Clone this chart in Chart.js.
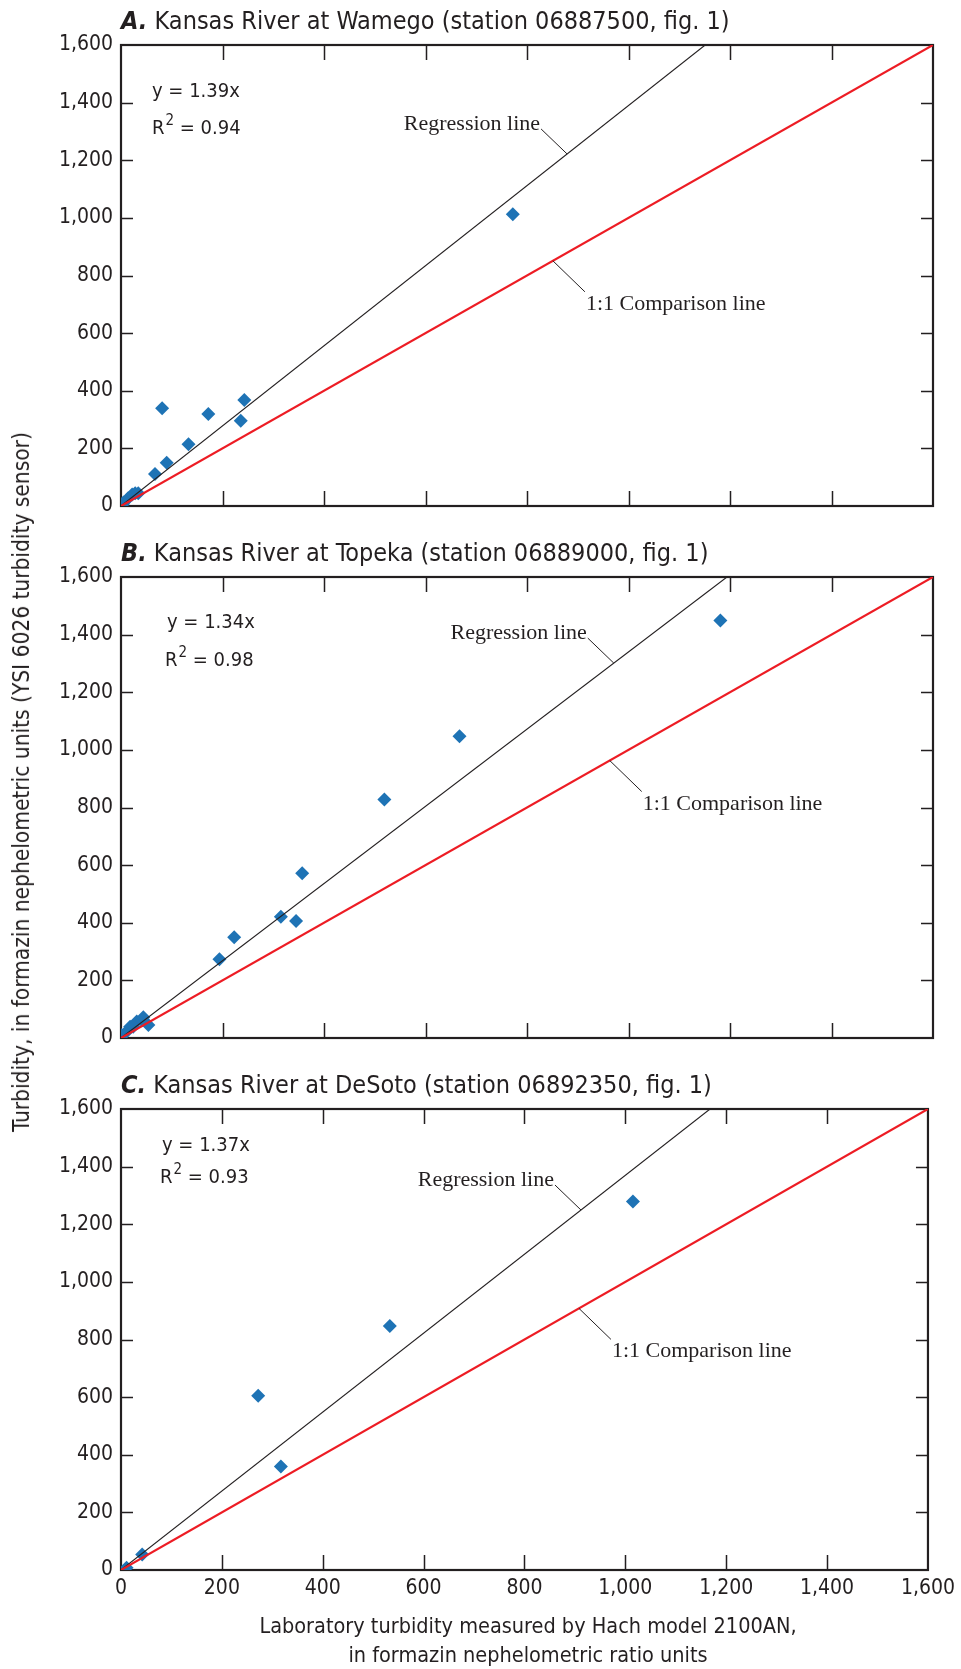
<!DOCTYPE html>
<html>
<head>
<meta charset="utf-8">
<script src="https://cdn.jsdelivr.net/npm/chart.js@4.4.1/dist/chart.umd.min.js"></script>
<style>
body { margin: 0; background: #fff; width: 961px; height: 1669px; position: relative; overflow: hidden; }
canvas { position: absolute; left: 0; }
.lbl { position: absolute; font-family: 'DejaVu Sans Condensed', 'Liberation Sans Narrow', sans-serif; color: #231f20; white-space: nowrap; }
#ytitle { left: 21px; top: 782px; font-size: 22.5px; transform: translate(-50%, -50%) rotate(-90deg); }
#xtitle { left: 528px; top: 1611px; font-size: 21.5px; line-height: 29px; text-align: center; transform: translateX(-50%); }
</style>
</head>
<body>
<canvas id="panelA" width="961" height="540" style="top:0px"></canvas>
<canvas id="panelB" width="961" height="532" style="top:540px"></canvas>
<canvas id="panelC" width="961" height="597" style="top:1072px"></canvas>
<div class="lbl" id="ytitle">Turbidity, in formazin nephelometric units (YSI 6026 turbidity sensor)</div>
<div class="lbl" id="xtitle">Laboratory turbidity measured by Hach model 2100AN,<br>in formazin nephelometric ratio units</div>
<script>
// tick values (both axes)
const axisTicks = [0, 200, 400, 600, 800, 1000, 1200, 1400, 1600];

const panelLetters = ['A.', 'B.', 'C.'];
const panelTitles = [
    'Kansas River at Wamego (station 06887500, fig. 1)',
    'Kansas River at Topeka (station 06889000, fig. 1)',
    'Kansas River at DeSoto (station 06892350, fig. 1)'
];
const slopes = [1.39, 1.34, 1.37];
const rSquared = ['0.94', '0.98', '0.93'];

// lab (Hach, FNU) vs sensor (YSI, FNU) samples
const wamegoLab = [3, 5, 14, 22, 28, 34, 67, 90, 133, 81, 172, 236, 243, 772];
const wamegoSensor = [5, 12, 27, 40, 44, 44, 111, 150, 214, 339, 319, 296, 368, 1013];

const topekaLab = [1, 11, 18, 24, 31, 41, 44, 54, 194, 223, 315, 345, 357, 519, 667, 1181];
const topekaSensor = [10, 22, 39, 39, 57, 62, 72, 45, 273, 350, 421, 406, 572, 828, 1047, 1449];

const desotoLab = [11, 42, 272, 317, 533, 1015];
const desotoSensor = [8, 54, 605, 359, 847, 1279];

const ink = '#231f20';
const red = '#ed1c24';
const blue = '#1e73b5';
const sans = "'DejaVu Sans Condensed', 'Liberation Sans Narrow', sans-serif";
const serif = "'Liberation Serif', 'Times New Roman', serif";

// where the label leaders touch the lines (x in data units), and text offsets
const regLabelX = [879, 971, 912];
const oneLabelX = [851, 963, 908];
const eqPos = [[31, 47, 31, 84], [46, 46, 44, 84], [41, 37, 39, 69]];

function fmt(v) {
    return v.toLocaleString('en-US');
}

const framePlugin = {
    id: 'frame',
    beforeDatasetsDraw(chart) {
        const { ctx, chartArea: a, scales: { x, y } } = chart;
        ctx.save();
        ctx.strokeStyle = ink;
        ctx.lineWidth = 1.5;
        ctx.beginPath();
        axisTicks.slice(1, -1).forEach(v => {
            const px = Math.round(x.getPixelForValue(v)) + 0.5;
            ctx.moveTo(px, a.bottom); ctx.lineTo(px, a.bottom - 15);
            ctx.moveTo(px, a.top); ctx.lineTo(px, a.top + 15);
            const py = Math.round(y.getPixelForValue(v)) + 0.5;
            ctx.moveTo(a.left, py); ctx.lineTo(a.left + 12, py);
            ctx.moveTo(a.right, py); ctx.lineTo(a.right - 12, py);
        });
        ctx.stroke();
        ctx.lineWidth = 2.2;
        ctx.strokeRect(a.left, a.top, a.right - a.left, a.bottom - a.top);
        ctx.restore();
    },
    afterDraw(chart) {
        const i = chart.options.plugins.frame.panel;
        const { ctx, chartArea: a, scales: { x, y } } = chart;
        ctx.save();
        ctx.fillStyle = ink;
        ctx.textBaseline = 'alphabetic';

        // panel title
        ctx.font = 'italic bold 25px ' + sans;
        ctx.fillText(panelLetters[i], a.left, a.top - 16);
        const w = ctx.measureText(panelLetters[i]).width;
        ctx.font = '25px ' + sans;
        ctx.fillText(' ' + panelTitles[i], a.left + w, a.top - 16);

        // equation
        const e = eqPos[i];
        ctx.textBaseline = 'middle';
        ctx.font = '20px ' + sans;
        ctx.fillText('y = ' + slopes[i].toFixed(2) + 'x', a.left + e[0], a.top + e[1]);
        let rx = a.left + e[2];
        ctx.fillText('R', rx, a.top + e[3]);
        rx += ctx.measureText('R').width + 1;
        ctx.font = '15px ' + sans;
        ctx.fillText('2', rx, a.top + e[3] - 8);
        rx += ctx.measureText('2').width;
        ctx.font = '20px ' + sans;
        ctx.fillText(' = ' + rSquared[i], rx, a.top + e[3]);

        // line labels with leaders
        ctx.strokeStyle = ink;
        ctx.lineWidth = 1;
        const gx = x.getPixelForValue(regLabelX[i]);
        const gy = y.getPixelForValue(regLabelX[i] * slopes[i]);
        ctx.beginPath();
        ctx.moveTo(gx, gy); ctx.lineTo(gx - 26, gy - 25);
        const ox = x.getPixelForValue(oneLabelX[i]);
        const oy = y.getPixelForValue(oneLabelX[i]);
        ctx.moveTo(ox, oy); ctx.lineTo(ox + 32, oy + 31);
        ctx.stroke();
        ctx.font = '22px ' + serif;
        ctx.textBaseline = 'alphabetic';
        ctx.textAlign = 'right';
        ctx.fillText('Regression line', gx - 27, gy - 24);
        ctx.textAlign = 'left';
        ctx.fillText('1:1 Comparison line', ox + 33, oy + 49);
        ctx.restore();
    }
};

function buildPanel(id, i, lab, sensor, showX, pad) {
    const axisMax = axisTicks[axisTicks.length - 1];
    return new Chart(document.getElementById(id), {
        type: 'scatter',
        data: {
            datasets: [
                {
                    label: '1:1 Comparison line',
                    data: [{ x: 0, y: 0 }, { x: axisMax, y: axisMax }],
                    showLine: true, borderColor: red, borderWidth: 2.2, pointRadius: 0, order: 0
                },
                {
                    label: 'Regression line',
                    data: [{ x: 0, y: 0 }, { x: axisMax / slopes[i], y: axisMax }],
                    showLine: true, borderColor: ink, borderWidth: 1.1, pointRadius: 0, order: 1
                },
                {
                    label: 'Samples',
                    data: lab.map((v, k) => ({ x: v, y: sensor[k] })),
                    pointStyle: 'rectRot', pointRadius: 7, backgroundColor: blue, borderWidth: 0, order: 2
                }
            ]
        },
        options: {
            responsive: false,
            animation: false,
            devicePixelRatio: 1,
            layout: { padding: pad },
            plugins: { legend: { display: false }, tooltip: { enabled: false }, frame: { panel: i } },
            scales: {
                x: {
                    type: 'linear', min: 0, max: axisMax,
                    afterBuildTicks: s => { s.ticks = axisTicks.map(v => ({ value: v })); },
                    afterFit: s => { s.height = showX ? 40 : 0; },
                    grid: { display: false, drawTicks: false },
                    border: { display: false },
                    ticks: { display: showX, padding: 6, color: ink, font: { family: sans, size: 21 }, callback: fmt, maxRotation: 0 }
                },
                y: {
                    type: 'linear', min: 0, max: axisMax,
                    afterBuildTicks: s => { s.ticks = axisTicks.map(v => ({ value: v })); },
                    afterFit: s => { s.width = 121; },
                    grid: { display: false, drawTicks: false },
                    border: { display: false },
                    ticks: { padding: 8, color: ink, font: { family: sans, size: 21 }, callback: fmt }
                }
            }
        },
        plugins: [framePlugin]
    });
}

buildPanel('panelA', 0, wamegoLab, wamegoSensor, false, { left: 0, right: 28, top: 45, bottom: 34 });
buildPanel('panelB', 1, topekaLab, topekaSensor, false, { left: 0, right: 28, top: 37, bottom: 34 });
buildPanel('panelC', 2, desotoLab, desotoSensor, true, { left: 0, right: 28, top: 37, bottom: 59 });
</script>
</body>
</html>
